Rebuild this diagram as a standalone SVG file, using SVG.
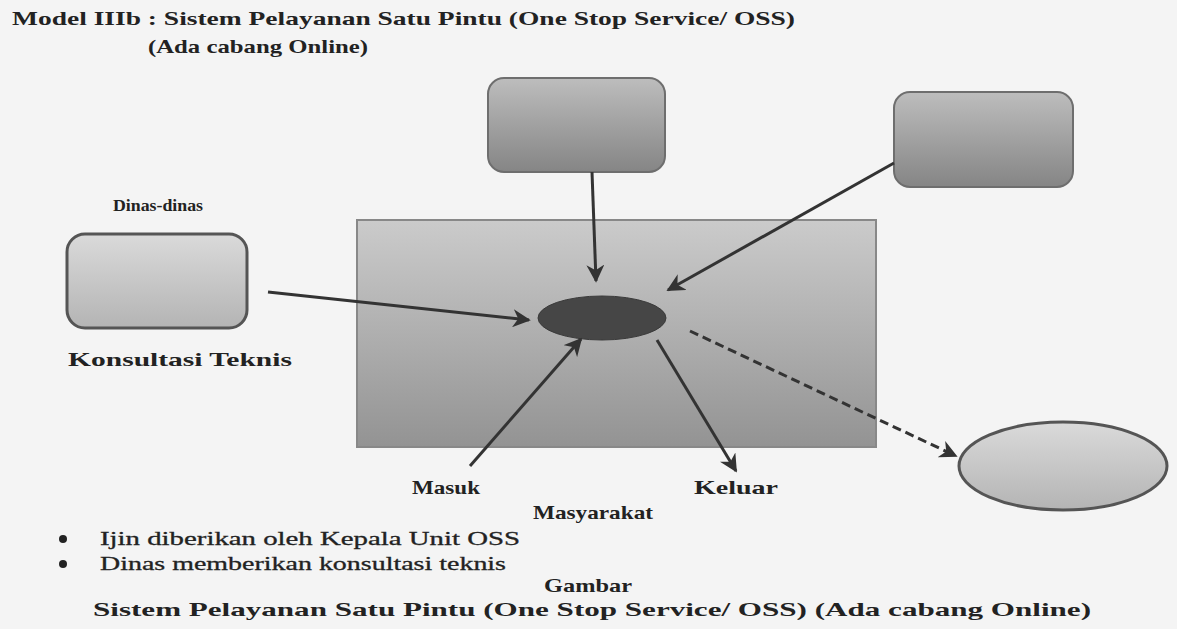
<svg xmlns="http://www.w3.org/2000/svg" width="1177" height="629" viewBox="0 0 1177 629">
<defs>
<linearGradient id="gBox" x1="0" y1="0" x2="0" y2="1">
<stop offset="0" stop-color="#bdbdbd"/><stop offset="1" stop-color="#858585"/>
</linearGradient>
<linearGradient id="gLight" x1="0" y1="0" x2="0" y2="1">
<stop offset="0" stop-color="#dadada"/><stop offset="1" stop-color="#b4b4b4"/>
</linearGradient>
<linearGradient id="gMain" x1="0" y1="0" x2="0" y2="1">
<stop offset="0" stop-color="#cbcbcb"/><stop offset="1" stop-color="#939393"/>
</linearGradient>
<marker id="ah" viewBox="0 0 10 10" refX="9" refY="5" markerWidth="6" markerHeight="6" markerUnits="strokeWidth" orient="auto">
<path d="M0,0 L10,5 L0,10 L3,5 Z" fill="#333"/>
</marker>
<style>
.t{font-family:"Liberation Serif",serif;font-weight:bold;font-size:19px;fill:#222}
.n{font-family:"Liberation Serif",serif;font-size:19px;fill:#222;stroke:#222;stroke-width:0.3}
.box{stroke:#6e6e6e;stroke-width:2}
.ln{stroke:#333;stroke-width:3;fill:none}
</style>
</defs>
<rect width="1177" height="629" fill="#f4f4f4"/>
<g id="title">
<text class="t" x="12" y="25" textLength="783" lengthAdjust="spacingAndGlyphs">Model IIIb : Sistem Pelayanan Satu Pintu (One Stop Service/ OSS)</text>
<text class="t" x="148" y="53" textLength="220" lengthAdjust="spacingAndGlyphs">(Ada cabang Online)</text>
</g>
<g id="main">
<rect x="357" y="220" width="519" height="227" fill="url(#gMain)" stroke="#888" stroke-width="2"/>
</g>
<g id="boxTop"><rect class="box" x="488" y="78" width="177" height="94" rx="16" fill="url(#gBox)"/></g>
<g id="boxRight"><rect class="box" x="894" y="92" width="179" height="95" rx="16" fill="url(#gBox)"/></g>
<g id="dinas">
<text class="t" x="113" y="211" style="font-size:16px" textLength="90" lengthAdjust="spacingAndGlyphs">Dinas-dinas</text>
<rect x="67" y="234" width="180" height="94" rx="18" fill="url(#gLight)" stroke="#555" stroke-width="3"/>
<text class="t" x="68" y="366" textLength="224" lengthAdjust="spacingAndGlyphs">Konsultasi Teknis</text>
</g>
<g id="center"><ellipse cx="602" cy="318" rx="64" ry="22" fill="#464646" stroke="#3a3a3a" stroke-width="1"/></g>
<g id="online"><ellipse cx="1063" cy="466" rx="104" ry="44" fill="url(#gLight)" stroke="#555" stroke-width="3"/></g>
<g id="connectors">
<line class="ln" x1="592" y1="172" x2="596" y2="281" marker-end="url(#ah)"/>
<line class="ln" x1="894" y1="163" x2="668" y2="290" marker-end="url(#ah)"/>
<line class="ln" x1="268" y1="292" x2="529" y2="320" marker-end="url(#ah)"/>
<line class="ln" x1="470" y1="466" x2="581" y2="339" marker-end="url(#ah)"/>
<line class="ln" x1="657" y1="340" x2="736" y2="471" marker-end="url(#ah)"/>
<line class="ln" x1="690" y1="331" x2="956" y2="456" stroke-dasharray="9,5" marker-end="url(#ah)"/>
</g>
<g id="labels">
<text class="t" x="412" y="494" textLength="68" lengthAdjust="spacingAndGlyphs">Masuk</text>
<text class="t" x="694" y="494" textLength="84" lengthAdjust="spacingAndGlyphs">Keluar</text>
<text class="t" x="533" y="519" textLength="120" lengthAdjust="spacingAndGlyphs">Masyarakat</text>
</g>
<g id="notes">
<circle cx="63" cy="539" r="4" fill="#222"/>
<circle cx="63" cy="564" r="4" fill="#222"/>
<text class="n" x="100" y="545" textLength="420" lengthAdjust="spacingAndGlyphs">Ijin diberikan oleh Kepala Unit OSS</text>
<text class="n" x="100" y="570" textLength="406" lengthAdjust="spacingAndGlyphs">Dinas memberikan konsultasi teknis</text>
<text class="t" x="588" y="592" text-anchor="middle" textLength="88" lengthAdjust="spacingAndGlyphs">Gambar</text>
<text class="t" x="93" y="616" textLength="998" lengthAdjust="spacingAndGlyphs">Sistem Pelayanan Satu Pintu (One Stop Service/ OSS) (Ada cabang Online)</text>
</g>
</svg>
